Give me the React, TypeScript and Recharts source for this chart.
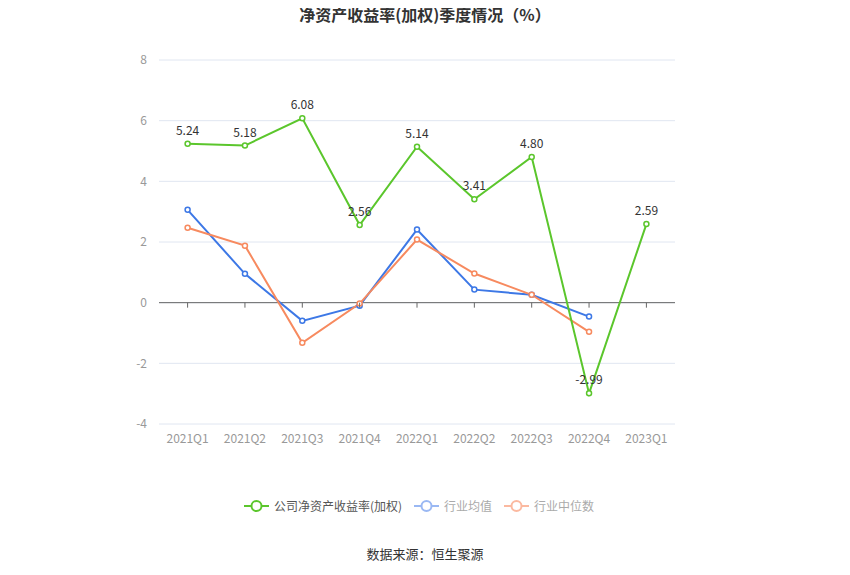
import { CartesianGrid, LabelList, Line, LineChart, ReferenceLine, XAxis, YAxis } from "recharts";

const quarters = ["2021Q1", "2021Q2", "2021Q3", "2021Q4", "2022Q1", "2022Q2", "2022Q3", "2022Q4", "2023Q1"];
const companyRoe = [5.24, 5.18, 6.08, 2.56, 5.14, 3.41, 4.8, -2.99, 2.59];
const industryAvg = [3.06, 0.95, -0.6, -0.1, 2.41, 0.43, 0.26, -0.46, null];
const industryMedian = [2.47, 1.88, -1.32, -0.03, 2.08, 0.96, 0.26, -0.96, null];
const yTicks = [-4, -2, 0, 2, 4, 6, 8];

const GREEN = "#5bc62c";
const BLUE = "#3d78e6";
const ORANGE = "#f78a5f";
const FONT = "'Noto Sans CJK SC', 'Noto Sans', sans-serif";

const data = quarters.map((q, i) => ({
  q,
  roe: companyRoe[i],
  avg: industryAvg[i],
  med: industryMedian[i],
}));

// layout
const W = 850;
const H = 575;
const TOP = 60;
const BOTTOM = 424;
const Y_MIN = -4;
const Y_MAX = 8;
const zeroY = BOTTOM - ((0 - Y_MIN) / (Y_MAX - Y_MIN)) * (BOTTOM - TOP);

function XTick(props: any) {
  const { x, y, payload } = props;
  return (
    <g>
      <line x1={x} x2={x} y1={zeroY} y2={zeroY + 5} stroke="#666" />
      <text x={x} y={y + 11} textAnchor="middle" fill="#999" fontSize={12} fontFamily={FONT}>
        {payload.value}
      </text>
    </g>
  );
}

function LegendItem({ color, label, textColor }: { color: string; label: string; textColor: string }) {
  return (
    <div style={{ display: "flex", alignItems: "center", marginRight: 12 }}>
      <svg width={25} height={14} style={{ marginRight: 5 }}>
        <line x1={0} x2={25} y1={7} y2={7} stroke={color} strokeWidth={2} />
        <circle cx={12.5} cy={7} r={5} fill="#fff" stroke={color} strokeWidth={2} />
      </svg>
      <span style={{ fontSize: 12, color: textColor }}>{label}</span>
    </div>
  );
}

export default function App() {
  return (
    <div
      style={{
        position: "relative",
        left: -8,
        top: -8,
        width: W,
        height: H,
        fontFamily: FONT,
        background: "#fff",
      }}
    >
      <div
        style={{
          position: "absolute",
          top: 2,
          width: W,
          textAlign: "center",
          fontSize: 16,
          fontWeight: "bold",
          color: "#333",
        }}
      >
        净资产收益率(加权)季度情况（%）
      </div>
      <LineChart width={W} height={H} data={data} margin={{ top: TOP, right: 175, bottom: H - BOTTOM - 30, left: 119 }}>
        <CartesianGrid vertical={false} stroke="#e0e6f1" />
        <XAxis
          dataKey="q"
          axisLine={false}
          tickLine={false}
          height={30}
          interval={0}
          padding={{ left: 28.6, right: 28.6 }}
          tick={<XTick />}
        />
        <YAxis
          domain={[Y_MIN, Y_MAX]}
          ticks={yTicks}
          axisLine={false}
          tickLine={false}
          width={40}
          tick={{ fill: "#999", fontSize: 12, fontFamily: FONT }}
          tickMargin={6}
        />
        <ReferenceLine y={0} stroke="#666" />
        <Line
          dataKey="avg"
          stroke={BLUE}
          strokeWidth={2}
          dot={{ r: 2.5, fill: "#fff", stroke: BLUE, strokeWidth: 1.5 }}
          isAnimationActive={false}
        />
        <Line
          dataKey="med"
          stroke={ORANGE}
          strokeWidth={2}
          dot={{ r: 2.5, fill: "#fff", stroke: ORANGE, strokeWidth: 1.5 }}
          isAnimationActive={false}
        />
        <Line
          dataKey="roe"
          stroke={GREEN}
          strokeWidth={2}
          dot={{ r: 2.5, fill: "#fff", stroke: GREEN, strokeWidth: 1.5 }}
          isAnimationActive={false}
        >
          <LabelList
            dataKey="roe"
            position="top"
            offset={9}
            fill="#333"
            fontSize={12}
            fontFamily={FONT}
            formatter={(v: any) => Number(v).toFixed(2)}
          />
        </Line>
      </LineChart>
      <div
        style={{
          position: "absolute",
          top: 497,
          width: W,
          display: "flex",
          justifyContent: "center",
        }}
      >
        <LegendItem color={GREEN} label="公司净资产收益率(加权)" textColor="#555" />
        <LegendItem color="#9ab8f3" label="行业均值" textColor="#aaa" />
        <LegendItem color="#fbb9a0" label="行业中位数" textColor="#aaa" />
      </div>
      <div
        style={{
          position: "absolute",
          top: 544,
          width: W,
          textAlign: "center",
          fontSize: 13,
          color: "#333",
        }}
      >
        数据来源：恒生聚源
      </div>
    </div>
  );
}
